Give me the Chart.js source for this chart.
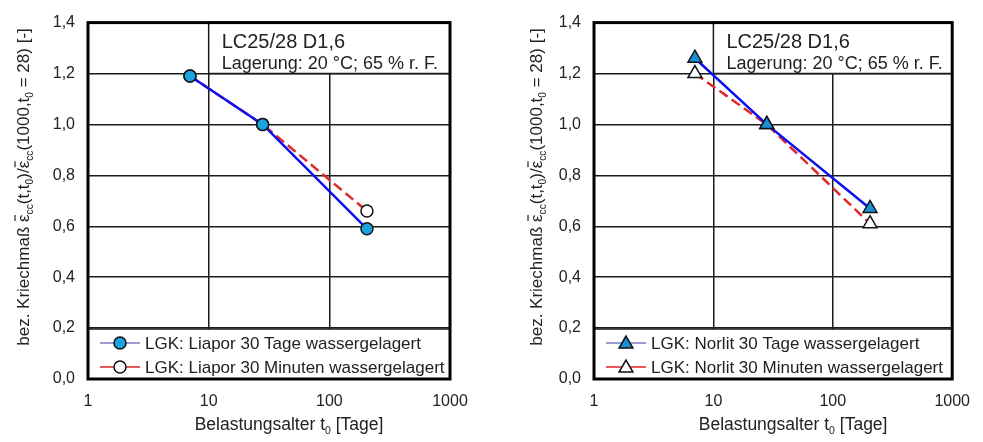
<!DOCTYPE html>
<html>
<head>
<meta charset="utf-8">
<script src="https://cdn.jsdelivr.net/npm/chart.js@4.4.1/dist/chart.umd.min.js"></script>
<style>
    body { margin: 0; background: #fff; }
    .panel { position: absolute; top: 0; height: 442px; }
</style>
</head>
<body>
<div class="panel" style="left:0; width:491px;"><canvas id="liaporChart"></canvas></div>
<div class="panel" style="left:491px; width:492px;"><canvas id="norlitChart"></canvas></div>
<script>
// Belastungsalter t0 [Tage]
const tageAlter = [7, 28, 205];

// bezogenes Kriechmaß
const liaporTage = [1.19, 1.00, 0.59];
const liaporMinuten = [1.19, 1.00, 0.66];
const norlitTage = [1.26, 1.00, 0.67];
const norlitMinuten = [1.20, 1.00, 0.61];

const xTickValues = [1, 10, 100, 1000];
const xTickLabels = ['1', '10', '100', '1000'];
const yTickValues = [0, 0.2, 0.4, 0.6, 0.8, 1.0, 1.2, 1.4];
const yTickLabels = ['0,0', '0,2', '0,4', '0,6', '0,8', '1,0', '1,2', '1,4'];

const annotationLines = ['LC25/28 D1,6', 'Lagerung: 20 °C; 65 % r. F.'];

const FONT = '"Liberation Sans", Arial, sans-serif';
const GRID = '#1a1a1a';

// Titel mit Indizes: [Text, Art]  (n = normal, s = tiefgestellt, b = mit Querstrich)
const yTitle = [
    ['bez. Kriechmaß ', 'n'], ['ε', 'b'], ['cc', 's'], ['(t,t', 'n'], ['0', 's'], [')/', 'n'],
    ['ε', 'b'], ['cc', 's'], ['(1000,t', 'n'], ['0', 's'], [' = 28) [-]', 'n']
];
const xTitle = [['Belastungsalter t', 'n'], ['0', 's'], [' [Tage]', 'n']];

function richWidth(ctx, parts, size) {
    let w = 0;
    parts.forEach(([t, k]) => {
        ctx.font = (k === 's' ? size * 0.6 : size) + 'px ' + FONT;
        w += ctx.measureText(t).width;
    });
    return w;
}

function drawRich(ctx, parts, x, y, size) {
    ctx.textAlign = 'left';
    ctx.textBaseline = 'alphabetic';
    parts.forEach(([t, k]) => {
        const fs = k === 's' ? size * 0.6 : size;
        ctx.font = fs + 'px ' + FONT;
        const w = ctx.measureText(t).width;
        ctx.fillText(t, x, k === 's' ? y + size * 0.22 : y);
        if (k === 'b') {
            ctx.beginPath();
            ctx.lineWidth = 1.2;
            ctx.moveTo(x + 1, y - size * 0.82);
            ctx.lineTo(x + w - 0.5, y - size * 0.82);
            ctx.stroke();
        }
        x += w;
    });
}

function drawMarker(ctx, style, x, y, r, fill) {
    ctx.beginPath();
    if (style === 'triangle') {
        ctx.moveTo(x, y - r);
        ctx.lineTo(x + Math.sin(2 * Math.PI / 3) * r, y + r / 2);
        ctx.lineTo(x - Math.sin(2 * Math.PI / 3) * r, y + r / 2);
        ctx.closePath();
    } else {
        ctx.arc(x, y, r, 0, Math.PI * 2);
    }
    ctx.fillStyle = fill;
    ctx.fill();
    ctx.lineWidth = 1.5;
    ctx.strokeStyle = '#111';
    ctx.stroke();
}

const framePlugin = {
    id: 'frame',
    beforeDatasetsDraw(chart) {
        const { ctx, chartArea: a, scales } = chart;
        ctx.save();
        // Beschriftungskasten oben rechts
        const bx = scales.x.getPixelForValue(10);
        const by = scales.y.getPixelForValue(1.2);
        ctx.fillStyle = '#fff';
        ctx.fillRect(bx, a.top, a.right - bx, by - a.top);
        ctx.strokeStyle = GRID;
        ctx.lineWidth = 1.5;
        ctx.strokeRect(bx, a.top, a.right - bx, by - a.top);
        ctx.fillStyle = '#222';
        ctx.textAlign = 'left';
        ctx.textBaseline = 'alphabetic';
        ctx.font = '20px ' + FONT;
        ctx.fillText(annotationLines[0], bx + 13, a.top + 25);
        ctx.font = '18px ' + FONT;
        ctx.fillText(annotationLines[1], bx + 13, a.top + 46);

        // Legende unten
        const ly = scales.y.getPixelForValue(0.2) + 1;
        ctx.fillStyle = '#fff';
        ctx.fillRect(a.left, ly, a.right - a.left, a.bottom - ly);
        ctx.beginPath();
        ctx.strokeStyle = GRID;
        ctx.lineWidth = 1.5;
        ctx.moveTo(a.left, ly);
        ctx.lineTo(a.right, ly);
        ctx.stroke();
        const legendLine = ['#7d7dc4', '#e02020'];
        chart.data.datasets.forEach((ds, i) => {
            const y = a.bottom - 36 + i * 24;
            ctx.beginPath();
            ctx.strokeStyle = legendLine[i];
            ctx.lineWidth = 1.5;
            ctx.moveTo(a.left + 12, y);
            ctx.lineTo(a.left + 52, y);
            ctx.stroke();
            drawMarker(ctx, ds.pointStyle, a.left + 32, y + (ds.pointStyle === 'triangle' ? 1 : 0),
                ds.pointRadius, ds.pointBackgroundColor);
            ctx.fillStyle = '#222';
            ctx.font = '17px ' + FONT;
            ctx.textAlign = 'left';
            ctx.textBaseline = 'middle';
            ctx.fillText(ds.label, a.left + 57, y + 1);
        });
        ctx.restore();
    },
    afterDraw(chart) {
        const { ctx, chartArea: a } = chart;
        ctx.save();
        ctx.strokeStyle = '#000';
        ctx.lineWidth = 3;
        ctx.strokeRect(a.left, a.top, a.right - a.left, a.bottom - a.top);

        ctx.fillStyle = '#222';
        ctx.strokeStyle = '#222';
        // x-Achsentitel
        const xs = 17.5;
        const xw = richWidth(ctx, xTitle, xs);
        drawRich(ctx, xTitle, (a.left + a.right) / 2 + 20 - xw / 2, 430, xs);
        // y-Achsentitel
        const ys = 17;
        const yw = richWidth(ctx, yTitle, ys);
        ctx.translate(a.left - chart.options.titleOffset, 187);
        ctx.rotate(-Math.PI / 2);
        drawRich(ctx, yTitle, -yw / 2, ys * 0.35, ys);
        ctx.restore();
    }
};

function makeChart(id, plotLeft, plotRight, canvasWidth, titleOffset, sets) {
    return new Chart(document.getElementById(id), {
        type: 'line',
        data: {
            datasets: sets.map(s => ({
                label: s.label,
                data: tageAlter.map((t, i) => ({ x: t, y: s.values[i] })),
                borderColor: s.line,
                borderWidth: 2.5,
                borderDash: s.dash || [],
                pointStyle: s.marker,
                pointRadius: s.radius,
                pointBackgroundColor: s.fill,
                pointBorderColor: '#111',
                pointBorderWidth: 1.5,
                tension: 0,
                fill: false
            }))
        },
        options: {
            responsive: true,
            maintainAspectRatio: false,
            animation: false,
            titleOffset: titleOffset,
            layout: { padding: { left: 0, right: canvasWidth - plotRight, top: 17, bottom: 0 } },
            plugins: { legend: { display: false }, tooltip: { enabled: false } },
            scales: {
                x: {
                    type: 'logarithmic',
                    min: 1,
                    max: 1000,
                    afterBuildTicks: scale => { scale.ticks = xTickValues.map(v => ({ value: v })); },
                    afterFit: scale => { scale.height = 63; },
                    ticks: {
                        callback: (v, i) => xTickLabels[i],
                        color: '#222',
                        font: { family: FONT, size: 16 },
                        padding: 13,
                        maxRotation: 0,
                        autoSkip: false
                    },
                    grid: { color: GRID, lineWidth: 1.5, drawTicks: false },
                    border: { display: false }
                },
                y: {
                    min: 0,
                    max: 1.4,
                    afterBuildTicks: scale => { scale.ticks = yTickValues.map(v => ({ value: v })); },
                    afterFit: scale => { scale.width = plotLeft; },
                    ticks: {
                        callback: (v, i) => yTickLabels[i],
                        color: '#222',
                        font: { family: FONT, size: 16 },
                        padding: 13,
                        autoSkip: false
                    },
                    grid: { color: GRID, lineWidth: 1.5, drawTicks: false },
                    border: { display: false }
                }
            }
        },
        plugins: [framePlugin]
    });
}

makeChart('liaporChart', 88, 450, 491, 65, [
    { label: 'LGK: Liapor 30 Tage wassergelagert', values: liaporTage, line: '#0a10f0',
      marker: 'circle', radius: 6, fill: '#1ba3e0' },
    { label: 'LGK: Liapor 30 Minuten wassergelagert', values: liaporMinuten, line: '#e02828',
      dash: [10, 5], marker: 'circle', radius: 6, fill: '#ffffff' }
]);

makeChart('norlitChart', 103, 465, 492, 58, [
    { label: 'LGK: Norlit 30 Tage wassergelagert', values: norlitTage, line: '#0a10f0',
      marker: 'triangle', radius: 8, fill: '#1a8fd6' },
    { label: 'LGK: Norlit 30 Minuten wassergelagert', values: norlitMinuten, line: '#e02828',
      dash: [10, 5], marker: 'triangle', radius: 8, fill: '#ffffff' }
]);
</script>
</body>
</html>
